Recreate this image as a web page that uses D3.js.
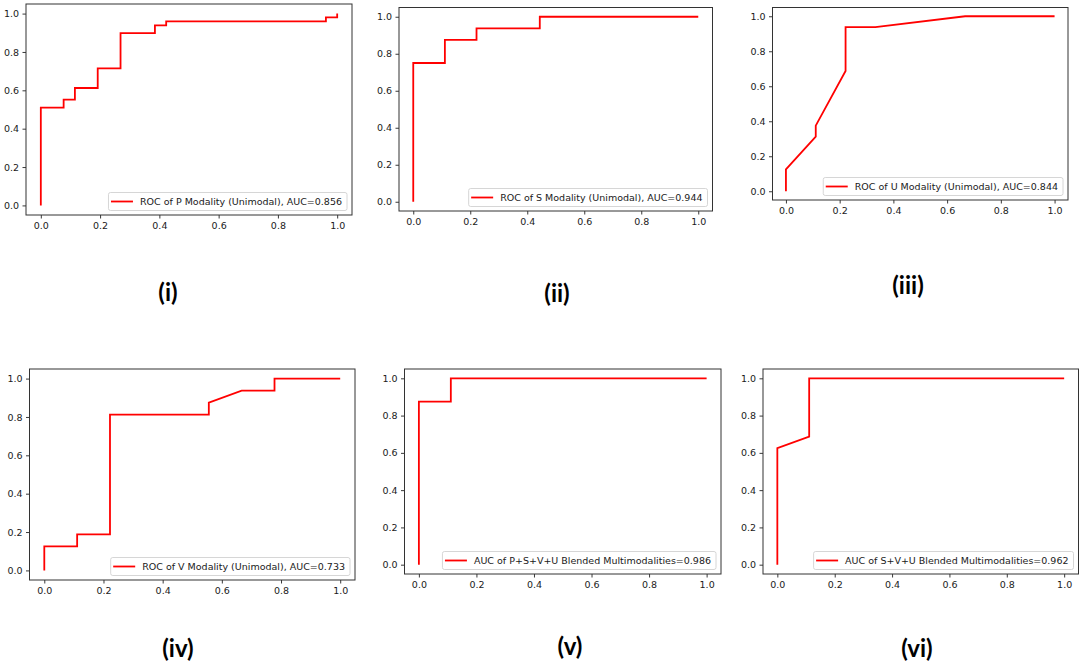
<!DOCTYPE html>
<html>
<head>
<meta charset="utf-8">
<script src="https://cdn.jsdelivr.net/npm/d3@7"></script>
<style>
  body { margin: 0; background: #fff; }
  svg { display: block; }
</style>
</head>
<body>
<svg id="chart" width="1084" height="667"></svg>
<script>
// ---------- data ---------- //
var tickValues = [0, 0.2, 0.4, 0.6, 0.8, 1.0];
var tickLabels = ["0.0", "0.2", "0.4", "0.6", "0.8", "1.0"];

// ROC vertices (fpr, tpr)
var fprP = [0, 0, 0.077, 0.077, 0.115, 0.115, 0.192, 0.192, 0.269, 0.269, 0.385, 0.385, 0.423, 0.423, 0.962, 0.962, 1, 1];
var tprP = [0, 0.51, 0.51, 0.551, 0.551, 0.612, 0.612, 0.714, 0.714, 0.898, 0.898, 0.939, 0.939, 0.959, 0.959, 0.98, 0.98, 1];

var fprS = [0, 0, 0.111, 0.111, 0.222, 0.222, 0.444, 0.444, 1];
var tprS = [0, 0.75, 0.75, 0.875, 0.875, 0.9375, 0.9375, 1, 1];

var fprU = [0, 0, 0.111, 0.111, 0.222, 0.222, 0.333, 0.667, 1];
var tprU = [0, 0.125, 0.3125, 0.375, 0.6875, 0.9375, 0.9375, 1, 1];

var fprV = [0, 0, 0.111, 0.111, 0.222, 0.222, 0.556, 0.556, 0.667, 0.778, 0.778, 1];
var tprV = [0, 0.125, 0.125, 0.1875, 0.1875, 0.8125, 0.8125, 0.875, 0.9375, 0.9375, 1, 1];

var fprPSVU = [0, 0, 0.111, 0.111, 1];
var tprPSVU = [0, 0.875, 0.875, 1, 1];

var fprSVU = [0, 0, 0.111, 0.111, 1];
var tprSVU = [0, 0.625, 0.6875, 1, 1];

var legendLabels = [
  "ROC of P Modality (Unimodal), AUC=0.856",
  "ROC of S Modality (Unimodal), AUC=0.944",
  "ROC of U Modality (Unimodal), AUC=0.844",
  "ROC of V Modality (Unimodal), AUC=0.733",
  "AUC of P+S+V+U Blended Multimodalities=0.986",
  "AUC of S+V+U Blended Multimodalities=0.962"
];
var panelLabels = ["(i)", "(ii)", "(iii)", "(iv)", "(v)", "(vi)"];

// ---------- layout (axes frame in page px, caption position) ---------- //
var panels = [
  { fpr: fprP,    tpr: tprP,    l: 26,  r: 352,  t: 4,   b: 215, cx: 168, cy: 301 },
  { fpr: fprS,    tpr: tprS,    l: 399, r: 712.5, t: 7.5, b: 211, cx: 557, cy: 302 },
  { fpr: fprU,    tpr: tprU,    l: 772.5, r: 1068, t: 7.5, b: 200, cx: 908, cy: 294 },
  { fpr: fprV,    tpr: tprV,    l: 29.5, r: 355,  t: 369, b: 580, cx: 178, cy: 657 },
  { fpr: fprPSVU, tpr: tprPSVU, l: 404.5, r: 721, t: 369, b: 574, cx: 570, cy: 655 },
  { fpr: fprSVU,  tpr: tprSVU,  l: 763, r: 1078.5, t: 369, b: 574, cx: 917, cy: 657 }
];

var svg = d3.select("#chart");

panels.forEach(function(p, i) {
  var x = d3.scaleLinear().domain([-0.05, 1.05]).range([p.l, p.r]);
  var y = d3.scaleLinear().domain([-0.05, 1.05]).range([p.b, p.t]);
  var g = svg.append("g");

  // axes
  var xAxis = d3.axisBottom(x).tickValues(tickValues)
      .tickFormat(function(d, k) { return tickLabels[k]; })
      .tickSize(3.5).tickPadding(3.5).tickSizeOuter(0);
  var yAxis = d3.axisLeft(y).tickValues(tickValues)
      .tickFormat(function(d, k) { return tickLabels[k]; })
      .tickSize(3.5).tickPadding(3.5).tickSizeOuter(0);

  g.append("g").attr("transform", "translate(0," + p.b + ")").call(xAxis);
  g.append("g").attr("transform", "translate(" + p.l + ",0)").call(yAxis);
  g.selectAll(".domain").remove();
  g.selectAll(".tick line").attr("stroke", "#222").attr("stroke-width", 0.9);
  g.selectAll(".tick text")
      .attr("font-family", "DejaVu Sans")
      .attr("font-size", "9.5px")
      .attr("fill", "#1a1a1a");

  // ROC curve
  var pts = p.fpr.map(function(f, k) { return [f, p.tpr[k]]; });
  var line = d3.line().x(function(d) { return x(d[0]); }).y(function(d) { return y(d[1]); });
  g.append("path")
      .attr("d", line(pts))
      .attr("fill", "none")
      .attr("stroke", "#ff0000")
      .attr("stroke-width", 1.8);

  // frame
  g.append("rect")
      .attr("x", p.l).attr("y", p.t)
      .attr("width", p.r - p.l).attr("height", p.b - p.t)
      .attr("fill", "none")
      .attr("stroke", "#333")
      .attr("stroke-width", 1);

  // legend, lower right
  var lg = g.append("g");
  var txt = lg.append("text")
      .attr("font-family", "DejaVu Sans")
      .attr("font-size", "9.5px")
      .attr("fill", "#1a1a1a")
      .text(legendLabels[i]);
  var tw = txt.node().getComputedTextLength();
  var boxR = p.r - 5, boxB = p.b - 4.5, boxH = 18;
  var boxL = boxR - 5 - tw - 7 - 22 - 2.5;
  var midY = boxB - boxH / 2;
  lg.insert("rect", "text")
      .attr("x", boxL).attr("y", boxB - boxH)
      .attr("width", boxR - boxL).attr("height", boxH)
      .attr("rx", 2)
      .attr("fill", "#fff").attr("fill-opacity", 0.85)
      .attr("stroke", "#ccc").attr("stroke-width", 0.8);
  lg.append("line")
      .attr("x1", boxL + 2.5).attr("x2", boxL + 24.5)
      .attr("y1", midY).attr("y2", midY)
      .attr("stroke", "#ff0000").attr("stroke-width", 1.8);
  txt.attr("x", boxL + 31.5).attr("y", midY + 3.4);

  // caption
  svg.append("text")
      .attr("x", p.cx).attr("y", p.cy)
      .attr("text-anchor", "middle")
      .attr("font-family", "Lato")
      .attr("font-weight", "bold")
      .attr("font-size", "24px")
      .attr("fill", "#000")
      .text(panelLabels[i]);
});
</script>
</body>
</html>
